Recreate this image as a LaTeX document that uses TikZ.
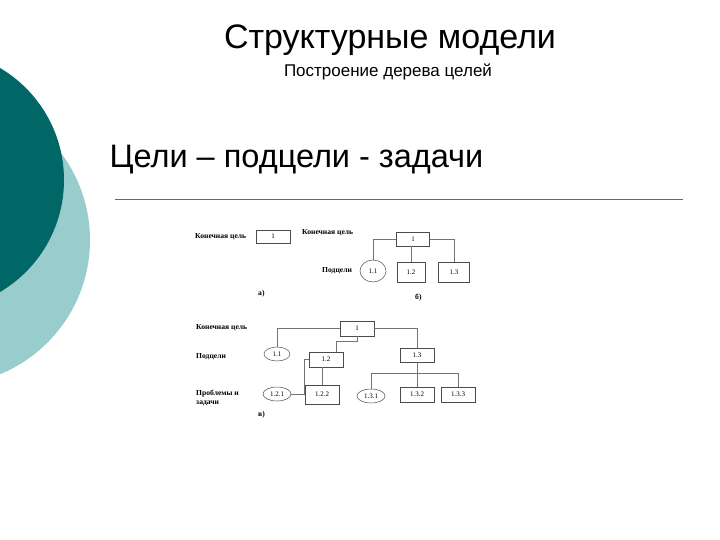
\documentclass[tikz,border=0pt]{standalone}
\usepackage{fontspec}
\setmainfont{Liberation Sans}
\newfontfamily\dfont{Liberation Serif}
\usetikzlibrary{shapes.geometric}
\definecolor{darkteal}{RGB}{0,102,102}
\definecolor{lightteal}{RGB}{153,204,204}
\begin{document}
\begin{tikzpicture}[x=1pt,y=-1pt,
  bx/.style={draw=black!70,line width=0.5pt,inner sep=0pt,font=\dfont\fontsize{7}{8}\selectfont},
  el/.style={ellipse,draw=black!70,line width=0.5pt,inner sep=0pt,minimum width=26pt,minimum height=14pt,font=\dfont\fontsize{7}{8}\selectfont},
  lb/.style={anchor=west,inner sep=0pt,font=\dfont\bfseries\fontsize{7.6}{8.5}\selectfont,align=left},
  ln/.style={draw=black!55,line width=0.5pt}]
\useasboundingbox (0,0) rectangle (720,540);
\fill[lightteal] (-55,240) circle (145);
\fill[darkteal] (-66,180) circle (130);
\node (t) at (390,40) {\fontsize{34}{38}\selectfont Структурные модели};
\node (st) at (388,72) {\fontsize{17}{19}\selectfont Построение дерева целей};
\node[anchor=west] (h) at (106,160) {\fontsize{32.5}{36}\selectfont Цели – подцели - задачи};
\coordinate (hl1) at (115,199); \coordinate (hl2) at (683,199);
\draw[black!60,line width=0.6pt] (hl1) -- (hl2);
% a)
\node[lb] (la) at (195,237) {Конечная цель};
\node[bx,minimum width=34pt,minimum height=13pt] (a1) at (273,236.5) {1};
\node[lb] (ca) at (258,294) {а)};
% b)
\node[lb] (lb1) at (302,233) {Конечная цель};
\node[bx,minimum width=33pt,minimum height=14pt] (b1) at (413,239) {1};
\node[el,minimum width=26pt,minimum height=22pt] (b11) at (373,271) {1.1};
\node[bx,minimum width=28pt,minimum height=20pt] (b12) at (411,272) {1.2};
\node[bx,minimum width=31pt,minimum height=20pt] (b13) at (454,272) {1.3};
\node[lb] (lb2) at (322,271) {Подцели};
\node[lb] (cb) at (415,298) {б)};
\draw[ln] (b1.west) -| (b11.north);
\draw[ln] (b1.east) -| (b13.north);
\draw[ln] (b1.south -| b12.north) -- (b12.north);
% c)
\node[lb] (lc1) at (196,328) {Конечная цель};
\node[lb] (lc2) at (196,357) {Подцели};
\node[lb] (lc3) at (196,398) {Проблемы и\\задачи};
\node[lb] (cc) at (258,415) {в)};
\node[bx,minimum width=34pt,minimum height=15pt] (c1) at (357,328.5) {1};
\node[el] (c11) at (277,354) {1.1};
\node[bx,minimum width=34pt,minimum height=15pt] (c12) at (326,359.5) {1.2};
\node[bx,minimum width=34pt,minimum height=14pt] (c13) at (417,355) {1.3};
\node[el,minimum width=28pt] (c121) at (277,394) {1.2.1};
\node[bx,minimum width=34pt,minimum height=19pt] (c122) at (322,394.5) {1.2.2};
\node[el,minimum width=28pt] (c131) at (371,396) {1.3.1};
\node[bx,minimum width=34pt,minimum height=15pt] (c132) at (417,394.5) {1.3.2};
\node[bx,minimum width=34pt,minimum height=15pt] (c133) at (458,394.5) {1.3.3};
\draw[ln] (c1.west) -| (c11.north);
\draw[ln] (c1.east) -| (c13.north);
\draw[ln] (c1.south) -- ++(0,5) -| ([xshift=10pt]c12.north);
\draw[ln] (c12.west) -- ++(-5,0) |- (c121.east);
\draw[ln] ([xshift=-4pt]c12.south) -- ([xshift=-4pt]c12.south |- c122.north);
\draw[ln] (c13.south) -- (c132.north);
\draw[ln] (c13.south) ++(0,11) coordinate (cj) -| (c131.north);
\draw[ln] (cj) -| (c133.north);
\end{tikzpicture}
\end{document}
